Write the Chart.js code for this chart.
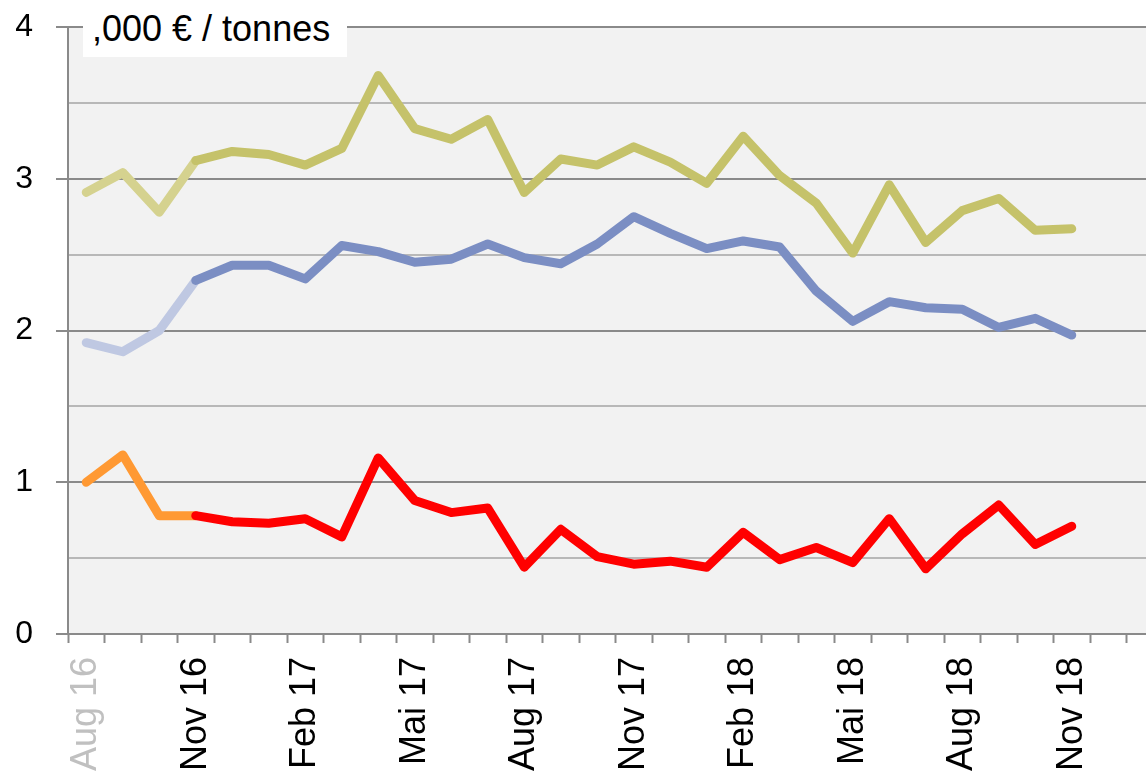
<!DOCTYPE html>
<html>
<head>
<meta charset="utf-8">
<script src="https://cdn.jsdelivr.net/npm/chart.js@4"></script>
<style>
  html, body { margin: 0; padding: 0; background: #fff; overflow: hidden; }
  #wrap { position: relative; width: 1170px; height: 774px; }
  #unit {
    position: absolute; left: 83px; top: 0; width: 264px; height: 57px;
    background: #fff; font: 36px "Liberation Sans", Arial, sans-serif;
    line-height: 57px; padding-left: 9px; box-sizing: border-box; color: #000;
  }
</style>
</head>
<body>
<div id="wrap">
  <canvas id="c"></canvas>
  <div id="unit">,000 € / tonnes</div>
</div>
<script>
// ── Data ──────────────────────────────────────────────────────────────────
const months = [
  'Aug 16', 'Sep 16', 'Okt 16', 'Nov 16', 'Dez 16', 'Jan 17', 'Feb 17', 'Mrz 17',
  'Apr 17', 'Mai 17', 'Jun 17', 'Jul 17', 'Aug 17', 'Sep 17', 'Okt 17', 'Nov 17',
  'Dez 17', 'Jan 18', 'Feb 18', 'Mrz 18', 'Apr 18', 'Mai 18', 'Jun 18', 'Jul 18',
  'Aug 18', 'Sep 18', 'Okt 18', 'Nov 18', 'Dez 18', 'Jan 19'
];
const olive = [2.91, 3.04, 2.78, 3.12, 3.18, 3.16, 3.09, 3.20, 3.68, 3.33, 3.26, 3.39, 2.91, 3.13,
               3.09, 3.21, 3.11, 2.97, 3.28, 3.02, 2.84, 2.51, 2.96, 2.58, 2.79, 2.87, 2.66, 2.67];
const blue  = [1.92, 1.86, 2.00, 2.33, 2.43, 2.43, 2.34, 2.56, 2.52, 2.45, 2.47, 2.57, 2.48, 2.44,
               2.57, 2.75, 2.64, 2.54, 2.59, 2.55, 2.26, 2.06, 2.19, 2.15, 2.14, 2.02, 2.08, 1.97];
const red   = [1.00, 1.18, 0.78, 0.78, 0.74, 0.73, 0.76, 0.64, 1.16, 0.88, 0.80, 0.83, 0.44, 0.69,
               0.51, 0.46, 0.48, 0.44, 0.67, 0.49, 0.57, 0.47, 0.76, 0.43, 0.66, 0.85, 0.59, 0.71];
const yTicks = [0, 1, 2, 3, 4];
const faded = 3;   // first segments drawn in the pale colour

// ── Helpers ───────────────────────────────────────────────────────────────
function series(data, dark, pale) {
  return {
    data,
    borderColor: dark,
    borderWidth: 9,
    borderCapStyle: 'round',
    borderJoinStyle: 'round',
    pointRadius: 0,
    tension: 0,
    segment: { borderColor: ctx => ctx.p0DataIndex < faded ? pale : dark },
  };
}

const plotBg = {
  id: 'plotBg',
  beforeDraw(chart) {
    const { ctx, chartArea: a } = chart;
    ctx.save();
    ctx.fillStyle = '#f2f2f2';
    ctx.fillRect(a.left, a.top, a.right - a.left, a.bottom - a.top);
    ctx.restore();
  },
};

const FONT = '"Liberation Sans", Arial, sans-serif';

new Chart(document.getElementById('c'), {
  type: 'line',
  data: {
    labels: months,
    datasets: [
      series(olive, '#c5c26a', '#d5d28f'),
      series(blue,  '#7b8ec3', '#bfc8e2'),
      series(red,   '#ff0000', '#ff9933'),
    ],
  },
  options: {
    responsive: true,
    maintainAspectRatio: false,
    animation: false,
    layout: { padding: { top: 27, right: 7, left: 0, bottom: 0 } },
    plugins: { legend: { display: false }, tooltip: { enabled: false } },
    scales: {
      x: {
        offset: true,
        afterFit: s => { s.height = 140; s.paddingLeft = 0; s.paddingRight = 0; },
        grid: {
          offset: true,
          drawOnChartArea: false,
          tickLength: 9,
          tickWidth: 2,
          tickColor: '#8a8a8a',
        },
        border: { color: '#8a8a8a', width: 2 },
        ticks: {
          autoSkip: false,
          maxRotation: 90,
          minRotation: 90,
          padding: 14,
          color: ctx => ctx.index === 0 ? '#c0c0c0' : '#000',
          font: { family: FONT, size: 36 },
          callback: (v, i) => i % 3 === 0 ? months[i] : '',
        },
      },
      y: {
        min: 0,
        max: 4,
        afterFit: s => { s.width = 68; s.paddingTop = 0; s.paddingBottom = 0; },
        grid: {
          color: ctx => Number.isInteger(ctx.tick.value) ? '#8a8a8a' : '#b8b8b8',
          lineWidth: 2,
          tickLength: 12,
          tickWidth: 2,
          tickColor: ctx => Number.isInteger(ctx.tick.value) ? '#8a8a8a' : 'rgba(0,0,0,0)',
        },
        border: { color: '#8a8a8a', width: 2 },
        ticks: {
          stepSize: 0.5,
          padding: 23,
          color: '#000',
          font: { family: FONT, size: 32 },
          callback: v => yTicks.includes(v) ? String(v) : '',
        },
      },
    },
  },
  plugins: [plotBg],
});
</script>
</body>
</html>
